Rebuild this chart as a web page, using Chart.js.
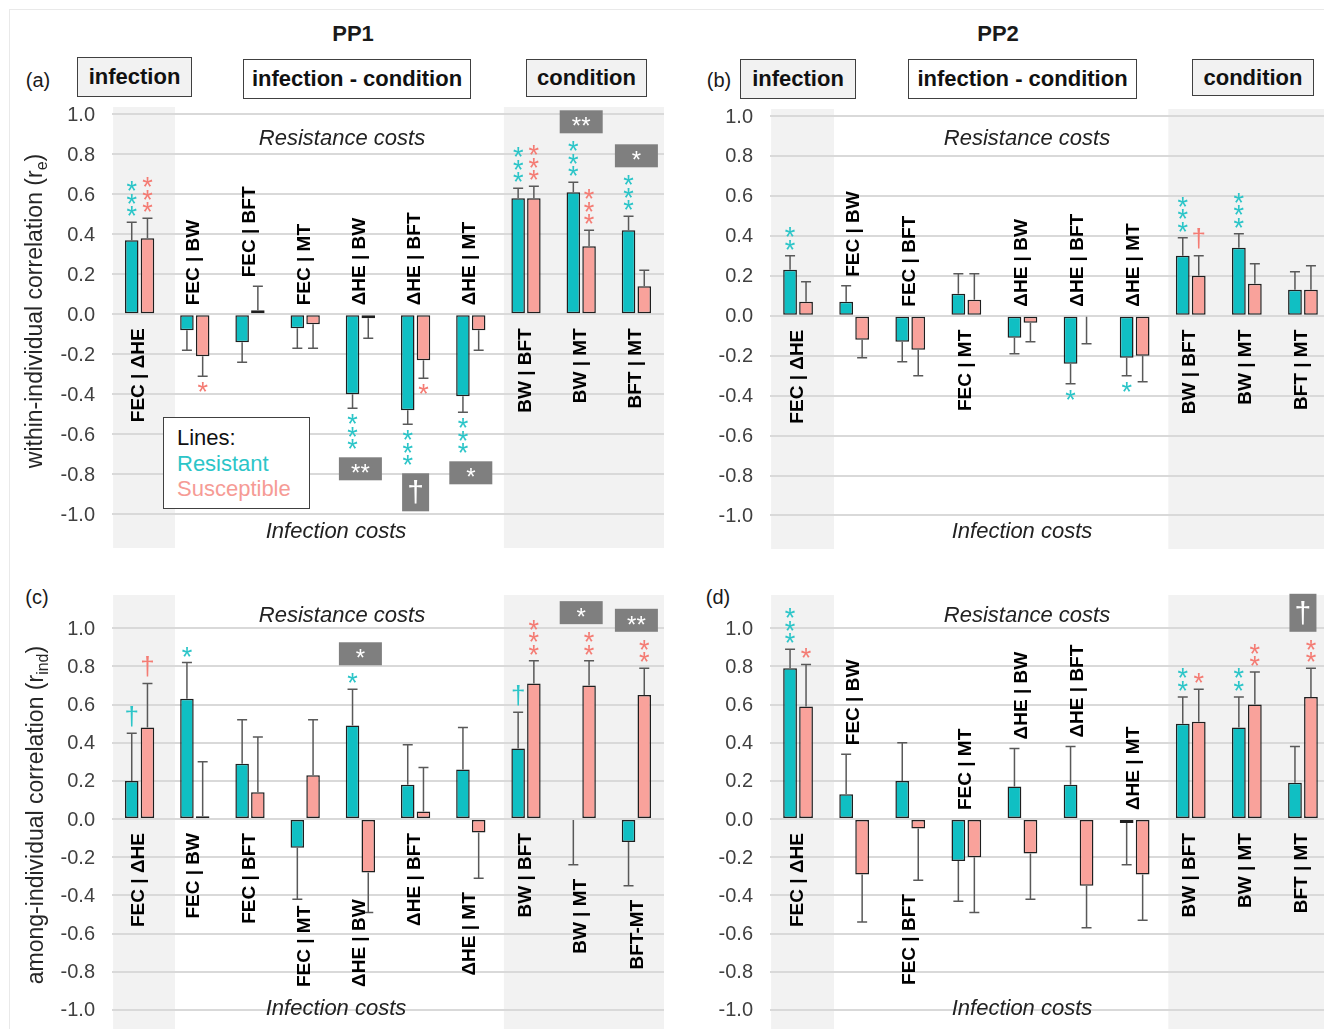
<!DOCTYPE html>
<html>
<head>
<meta charset="utf-8">
<script src="https://cdn.jsdelivr.net/npm/chart.js@4.4.0/dist/chart.umd.min.js"></script>
<style>
body { margin:0; width:1324px; height:1029px; overflow:hidden; background:#fff; position:relative; font-family:Arial, "Liberation Sans", sans-serif; }
canvas { position:absolute; }
.t { position:absolute; white-space:nowrap; transform:translate(-50%,-50%); color:#1a1a1a; }
.yt { position:absolute; white-space:nowrap; transform:translate(-50%,-50%) rotate(-90deg); font-size:23px; color:#262626; }
.sub { font-size:16px; vertical-align:-5px; }
.box { position:absolute; box-sizing:border-box; border:1.5px solid #404040; font-weight:bold; font-size:22px; color:#111;
       display:flex; align-items:center; justify-content:center; }
.gray { background:#f2f2f2; }
.it { font-style:italic; font-size:22px; color:#222; }
.frame { position:absolute; left:9px; top:9px; width:1340px; height:1040px; border:1px solid #e9e9e9; }
.legend { position:absolute; left:163px; top:417px; width:147px; height:92px; box-sizing:border-box; border:1.5px solid #404040;
          background:#fff; font-size:22px; line-height:25.5px; padding:7px 0 0 13px; }
</style>
</head>
<body>
<div class="frame"></div>

<div class="t" style="left:353px;top:34px;font-weight:bold;font-size:22px">PP1</div>
<div class="t" style="left:998px;top:34px;font-weight:bold;font-size:22px">PP2</div>

<div class="t" style="left:38px;top:80px;font-size:20px">(a)</div>
<div class="t" style="left:719px;top:80px;font-size:20px">(b)</div>
<div class="t" style="left:37px;top:597px;font-size:20px">(c)</div>
<div class="t" style="left:718px;top:597px;font-size:20px">(d)</div>

<div class="box gray" style="left:77px;top:57px;width:115px;height:40px">infection</div>
<div class="box" style="left:243px;top:59px;width:228px;height:40px">infection - condition</div>
<div class="box gray" style="left:526px;top:59px;width:121px;height:38px">condition</div>
<div class="box gray" style="left:740px;top:59px;width:116px;height:40px">infection</div>
<div class="box" style="left:908px;top:59px;width:229px;height:40px">infection - condition</div>
<div class="box gray" style="left:1192px;top:59px;width:122px;height:37px">condition</div>

<canvas id="ca"></canvas>
<canvas id="cb"></canvas>
<canvas id="cc"></canvas>
<canvas id="cd"></canvas>

<div class="t it" style="left:342px;top:138px">Resistance costs</div>
<div class="t it" style="left:336px;top:531px">Infection costs</div>
<div class="t it" style="left:1027px;top:138px">Resistance costs</div>
<div class="t it" style="left:1022px;top:531px">Infection costs</div>
<div class="t it" style="left:342px;top:615px">Resistance costs</div>
<div class="t it" style="left:336px;top:1008px">Infection costs</div>
<div class="t it" style="left:1027px;top:615px">Resistance costs</div>
<div class="t it" style="left:1022px;top:1008px">Infection costs</div>

<div class="yt" style="left:36px;top:311px">within-individual correlation (r<span class="sub">e</span>)</div>
<div class="yt" style="left:37px;top:815px">among-individual correlation (r<span class="sub">ind</span>)</div>

<div class="legend">
  <div style="color:#111">Lines:</div>
  <div style="color:#2CC5C8">Resistant</div>
  <div style="color:#F69B95">Susceptible</div>
</div>

<script>
// categories
const catsA = ['FEC | ΔHE', 'FEC | BW', 'FEC | BFT', 'FEC | MT', 'ΔHE | BW', 'ΔHE | BFT', 'ΔHE | MT', 'BW | BFT', 'BW | MT', 'BFT | MT'];
const catsC = ['FEC | ΔHE', 'FEC | BW', 'FEC | BFT', 'FEC | MT', 'ΔHE | BW', 'ΔHE | BFT', 'ΔHE | MT', 'BW | BFT', 'BW | MT', 'BFT-MT'];
const tickVals = [-1.0, -0.8, -0.6, -0.4, -0.2, 0.0, 0.2, 0.4, 0.6, 0.8, 1.0];

// (a) PP1 within-individual
const aRes    = [0.37, -0.08, -0.14, -0.07, -0.40, -0.48, -0.41, 0.58, 0.61, 0.42];
const aResErr = [0.46, -0.18, -0.24, -0.17, -0.47, -0.55, -0.49, 0.63, 0.66, 0.49];
const aSus    = [0.38, -0.21, 0.02, -0.05, -0.02, -0.23, -0.08, 0.58, 0.34, 0.14];
const aSusErr = [0.48, -0.31, 0.14, -0.17, -0.12, -0.32, -0.18, 0.64, 0.42, 0.22];
const aResSig = ['***', '', '', '', '***', '***', '***', '***', '***', '***'];
const aSusSig = ['***', '*', '', '', '', '*', '', '***', '***', ''];
const aDiff   = ['', '', '', '', '**', '†', '*', '', '**', '*'];

// (b) PP2 within-individual
const bRes    = [0.23, 0.07, -0.13, 0.11, -0.11, -0.24, -0.21, 0.30, 0.34, 0.13];
const bResErr = [0.30, 0.15, -0.23, 0.21, -0.19, -0.34, -0.30, 0.39, 0.41, 0.22];
const bSus    = [0.07, -0.12, -0.17, 0.08, -0.035, -0.005, -0.20, 0.20, 0.16, 0.13];
const bSusErr = [0.17, -0.21, -0.30, 0.21, -0.13, -0.14, -0.33, 0.30, 0.26, 0.25];
const bResSig = ['**', '', '', '', '', '*', '*', '***', '***', ''];
const bSusSig = ['', '', '', '', '', '', '', '†', '', ''];
const bDiff   = ['', '', '', '', '', '', '', '', '', ''];

// (c) PP1 among-individual
const cRes    = [0.20, 0.63, 0.29, -0.15, 0.49, 0.18, 0.26, 0.37, -0.005, -0.12];
const cResErr = [0.45, 0.82, 0.52, -0.42, 0.68, 0.39, 0.48, 0.56, -0.24, -0.35];
const cSus    = [0.48, 0.015, 0.14, 0.23, -0.28, 0.04, -0.07, 0.71, 0.70, 0.65];
const cSusErr = [0.71, 0.30, 0.43, 0.52, -0.49, 0.27, -0.31, 0.83, 0.83, 0.79];
const cResSig = ['†', '*', '', '', '*', '', '', '†', '', ''];
const cSusSig = ['†', '', '', '', '', '', '', '***', '**', '**'];
const cDiff   = ['', '', '', '', '*', '', '', '', '*', '**'];

// (d) PP2 among-individual
const dRes    = [0.79, 0.13, 0.20, -0.22, 0.17, 0.18, -0.02, 0.50, 0.48, 0.19];
const dResErr = [0.89, 0.34, 0.40, -0.43, 0.37, 0.38, -0.24, 0.64, 0.64, 0.38];
const dSus    = [0.59, -0.29, -0.05, -0.20, -0.18, -0.35, -0.29, 0.51, 0.60, 0.64];
const dSusErr = [0.81, -0.54, -0.32, -0.49, -0.42, -0.57, -0.53, 0.68, 0.77, 0.79];
const dResSig = ['***', '', '', '', '', '', '', '**', '**', ''];
const dSusSig = ['*', '', '', '', '', '', '', '*', '**', '**'];
const dDiff   = ['', '', '', '', '', '', '', '', '', '†'];

const TEAL = '#10BFC3';
const SALMON = '#F9A29B';
const STAR_COL = ['#2CC5C8', '#F47C74'];
const FONT = 'Arial, "Liberation Sans", sans-serif';
// shaded groups (in category units): infection, condition
const BANDS = [[-0.48, 0.64], [6.6, 9.5]];

function glyph(ctx, ch, x, cy, font, color) {
    ctx.font = font;
    ctx.fillStyle = color;
    ctx.textAlign = 'center';
    ctx.textBaseline = 'alphabetic';
    const m = ctx.measureText(ch);
    ctx.fillText(ch, x, cy + (m.actualBoundingBoxAscent - m.actualBoundingBoxDescent) / 2);
}

const marks = {
    id: 'marks',
    beforeDraw(chart) {
        const {ctx, chartArea: a} = chart;
        const cw = a.width / chart.data.labels.length;
        ctx.save();
        ctx.fillStyle = '#f2f2f2';
        for (const [u0, u1] of BANDS) {
            ctx.fillRect(a.left + (u0 + 0.5) * cw, a.top, (u1 - u0) * cw, a.bottom - a.top);
        }
        // y tick labels (drawn here so they add no layout padding)
        const ys = chart.scales.y;
        ctx.font = '20px ' + FONT;
        ctx.fillStyle = '#404040';
        ctx.textAlign = 'right';
        ctx.textBaseline = 'middle';
        tickVals.forEach(v => ctx.fillText(v.toFixed(1), a.left - 17, ys.getPixelForValue(v) + 1));
        ctx.restore();
    },
    afterDatasetsDraw(chart) {
        const {ctx, chartArea: a} = chart;
        const info = chart.options.plugins.marks;
        const ys = chart.scales.y, xs = chart.scales.x;
        ctx.save();
        chart.data.labels.forEach((lab, j) => {
            let P = 0, N = 0;
            // outermost pixel reached on each side (up / down)
            let upExt = ys.getPixelForValue(0), dnExt = upExt;
            for (let d = 0; d < 2; d++) {
                const bar = chart.getDatasetMeta(d).data[j];
                const v = chart.data.datasets[d].data[j];
                const e = info.err[d][j];
                const x = bar.x;
                const y0 = ys.getPixelForValue(v), y1 = ys.getPixelForValue(e);
                // error bar
                ctx.strokeStyle = '#595959';
                ctx.lineWidth = 1.5;
                ctx.beginPath();
                ctx.moveTo(x, y0); ctx.lineTo(x, y1);
                ctx.moveTo(x - 5, y1); ctx.lineTo(x + 5, y1);
                ctx.stroke();
                if (e > 0) P = Math.max(P, e); else N = Math.max(N, -e);
                const dir = e >= 0 ? -1 : 1;
                let ext = y1;
                // significance symbols
                [...info.sig[d][j]].forEach((ch, k) => {
                    const dag = ch === '†';
                    const cy = y1 + dir * ((dag ? 17 : 11) + k * (dag ? 26 : 12.5));
                    glyph(ctx, ch, x, cy, (dag ? '26px ' : '27px ') + FONT, STAR_COL[d]);
                    ext = cy + dir * (dag ? 12 : 5);
                });
                if (dir < 0) upExt = Math.min(upExt, ext); else dnExt = Math.max(dnExt, ext);
            }
            const xc = xs.getPixelForValue(j);
            // line difference box
            const dv = info.diff[j];
            if (dv) {
                const dag = dv === '†';
                const w = dag ? 27 : 43, h = dag ? 38 : 23;
                let top;
                if (P >= N) top = upExt - 8 - h; else top = dnExt + 8;
                ctx.fillStyle = '#7f7f7f';
                ctx.fillRect(xc - w / 2, top, w, h);
                glyph(ctx, dv, xc, top + h / 2, (dag ? '30px ' : '24px ') + FONT, '#fff');
            }
            // category label
            ctx.font = 'bold 19px ' + FONT;
            const m = ctx.measureText(lab);
            const len = m.width;
            ctx.save();
            let yA, align;
            if (N > P) {
                yA = ys.getPixelForValue(P) - 9; align = 'left';
            } else {
                yA = ys.getPixelForValue(-N) + 14; align = 'right';
                if (yA + len > a.bottom - 42) yA = a.bottom - 42 - len;
            }
            ctx.translate(xc, yA);
            ctx.rotate(-Math.PI / 2);
            ctx.textAlign = align;
            ctx.textBaseline = 'alphabetic';
            ctx.fillStyle = '#000';
            ctx.fillText(lab, 0, (m.actualBoundingBoxAscent - m.actualBoundingBoxDescent) / 2);
            ctx.restore();
        });
        ctx.restore();
    }
};

function makePanel(p) {
    const cv = document.getElementById(p.id);
    cv.width = p.w; cv.height = p.h;
    cv.style.left = p.left + 'px'; cv.style.top = p.top + 'px';
    cv.style.width = p.w + 'px'; cv.style.height = p.h + 'px';
    const chart = new Chart(cv.getContext('2d'), {
        type: 'bar',
        data: {
            labels: p.cats,
            datasets: [
                {label: 'Resistant', data: p.res, backgroundColor: TEAL, borderColor: '#1f1f1f', borderWidth: 1.5,
                 borderSkipped: false, categoryPercentage: 0.57, barPercentage: 0.86},
                {label: 'Susceptible', data: p.sus, backgroundColor: SALMON, borderColor: '#1f1f1f', borderWidth: 1.5,
                 borderSkipped: false, categoryPercentage: 0.57, barPercentage: 0.86}
            ]
        },
        options: {
            responsive: false,
            maintainAspectRatio: false,
            animation: false,
            devicePixelRatio: 1,
            layout: {padding: {top: p.pad.top, right: p.pad.right, bottom: p.pad.bottom, left: 0}},
            plugins: {
                legend: {display: false},
                tooltip: {enabled: false},
                marks: {err: [p.resErr, p.susErr], sig: [p.resSig, p.susSig], diff: p.diff}
            },
            scales: {
                x: {display: false},
                y: {
                    min: p.min, max: p.max,
                    afterBuildTicks: sc => { sc.ticks = tickVals.map(v => ({value: v})); },
                    afterFit: sc => { sc.width = p.axisW; },
                    grid: {color: '#d9d9d9', lineWidth: 2, drawTicks: false},
                    border: {display: false},
                    ticks: {display: false}
                }
            }
        },
        plugins: [marks]
    });
    // make the plot area land exactly where wanted
    const a = chart.chartArea;
    const dt = a.top - p.pad.top, db = (p.h - p.pad.bottom) - a.bottom;
    if (Math.abs(dt) > 0.5 || Math.abs(db) > 0.5) {
        chart.options.layout.padding.top = p.pad.top - dt;
        chart.options.layout.padding.bottom = p.pad.bottom - db;
        chart.update();
    }
    return chart;
}

makePanel({id: 'ca', left: 0, top: 100, w: 680, h: 460, axisW: 112, pad: {top: 7, right: 16, bottom: 12},
    min: -1.1685, max: 1.0365, cats: catsA, res: aRes, resErr: aResErr, sus: aSus, susErr: aSusErr,
    resSig: aResSig, susSig: aSusSig, diff: aDiff});
makePanel({id: 'cb', left: 660, top: 100, w: 680, h: 460, axisW: 110, pad: {top: 9, right: 9, bottom: 11},
    min: -1.168, max: 1.035, cats: catsA, res: bRes, resErr: bResErr, sus: bSus, susErr: bSusErr,
    resSig: bResSig, susSig: bSusSig, diff: bDiff});
makePanel({id: 'cc', left: 0, top: 590, w: 680, h: 439, axisW: 112, pad: {top: 5, right: 16, bottom: 0},
    min: -1.10, max: 1.174, cats: catsC, res: cRes, resErr: cResErr, sus: cSus, susErr: cSusErr,
    resSig: cResSig, susSig: cSusSig, diff: cDiff});
makePanel({id: 'cd', left: 660, top: 590, w: 680, h: 439, axisW: 110, pad: {top: 5, right: 9, bottom: 0},
    min: -1.10, max: 1.174, cats: catsA, res: dRes, resErr: dResErr, sus: dSus, susErr: dSusErr,
    resSig: dResSig, susSig: dSusSig, diff: dDiff});
</script>
</body>
</html>
